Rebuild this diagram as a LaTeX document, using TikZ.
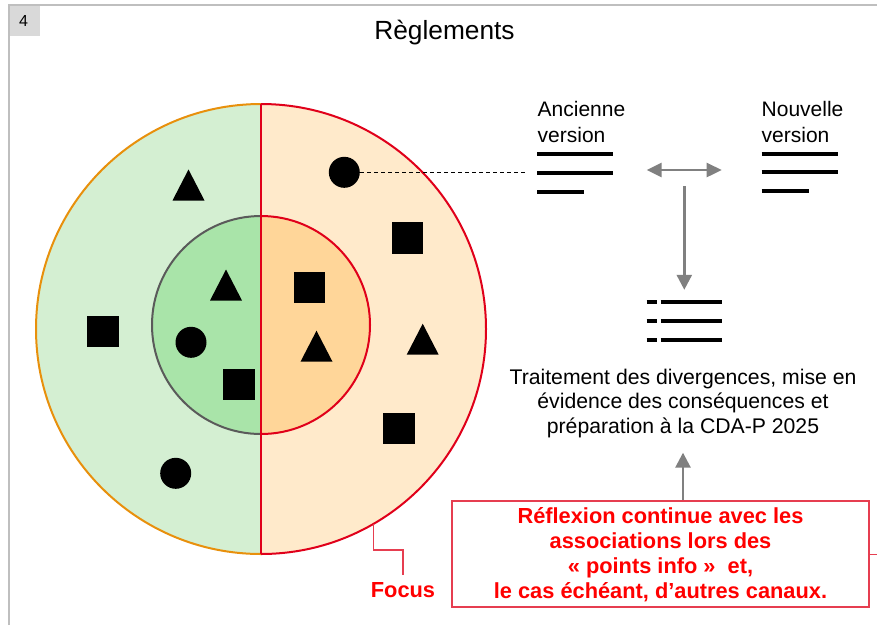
\documentclass[tikz,border=0pt]{standalone}
\usepackage{fontspec}
\setmainfont{Liberation Sans}
\usetikzlibrary{arrows.meta}
\definecolor{lgreen}{HTML}{D4EFD2}
\definecolor{mgreen}{HTML}{A9E4A9}
\definecolor{lorange}{HTML}{FFEACB}
\definecolor{morange}{HTML}{FFD699}
\definecolor{ringorange}{HTML}{E8900C}
\definecolor{ringred}{HTML}{E0001A}
\definecolor{ringgray}{HTML}{5A5A5A}
\definecolor{arrowgray}{HTML}{808080}
\definecolor{boxred}{HTML}{E63E50}
\definecolor{textred}{HTML}{FF0000}
\definecolor{framegray}{HTML}{BFBFBF}
\definecolor{tabgray}{HTML}{D9D9D9}
\newcommand\mytri[3]{\fill (#1-16,#2+15.5) -- (#1+16,#2+15.5) -- (#1,#2-15.5) -- cycle; \coordinate (#3) at (#1,#2);}
\begin{document}
\begin{tikzpicture}[x=1pt,y=-1pt,
  dotnode/.style={circle,fill=black,inner sep=0,minimum size=31pt},
  sqnode/.style={rectangle,fill=black,inner sep=0,minimum size=31.5pt},
  bodytext/.style={font=\fontsize{21}{26}\selectfont, inner sep=0},
  redtext/.style={font=\bfseries\fontsize{21.8}{25}\selectfont, text=textred, inner sep=0},
  ring/.style={line width=2pt},
  garrow/.style={draw=arrowgray, line width=2.6pt, -{Triangle[width=15pt,length=15pt]}},
  gdarrow/.style={draw=arrowgray, line width=2.6pt, {Triangle[width=14pt,length=15pt]}-{Triangle[width=14pt,length=15pt]}},
  docline/.style={line width=4pt, black},
  redline/.style={draw=boxred, line width=1.4pt}]
\useasboundingbox (0,0) rectangle (877,625);
% frame
\fill[tabgray] (9,5) rectangle (40,35.5);
\draw[framegray, line width=2pt] (9,625) -- (9,5) -- (877,5);
\node[font=\fontsize{16}{18}\selectfont, inner sep=0] (num) at (23.5,21) {4};
\node[font=\fontsize{26.3}{30}\selectfont, inner sep=0] (title) at (444.5,32.5) {Règlements};
% circles
\fill[lgreen] (261,104) arc[start angle=90,end angle=270,radius=225pt] -- cycle;
\fill[lorange] (261,104) arc[start angle=90,end angle=-90,radius=225pt] -- cycle;
\draw[ring, ringorange] (261,104) arc[start angle=90,end angle=270,radius=225pt];
\draw[ring, ringred] (261,104) arc[start angle=90,end angle=-90,radius=225pt];
\fill[mgreen] (261,216) arc[start angle=90,end angle=270,radius=109pt] -- cycle;
\fill[morange] (261,216) arc[start angle=90,end angle=-90,radius=109pt] -- cycle;
\draw[ring, ringgray] (261,216) arc[start angle=90,end angle=270,radius=109pt];
\draw[ring, ringred] (261,216) arc[start angle=90,end angle=-90,radius=109pt];
\draw[ring, ringred] (261,104) -- (261,554);
% shapes
\mytri{188.5}{185}{t1}
\node[sqnode] (s1) at (103,331.5) {};
\mytri{226}{285}{t2}
\node[dotnode] (d1) at (191,342.3) {};
\node[sqnode] (s2) at (239,384.5) {};
\node[dotnode] (d2) at (175.7,473.3) {};
\node[dotnode] (rdot) at (344.3,172.3) {};
\node[sqnode] (s3) at (407.5,238) {};
\node[sqnode] (s4) at (309.7,287.7) {};
\mytri{316.5}{346.2}{t3}
\mytri{422.7}{339.2}{t4}
\node[sqnode] (s5) at (399,428.3) {};
% dashed link
\coordinate (dashend) at (525,172.3);
\draw[black, line width=0.9pt, dash pattern=on 4pt off 3pt] (rdot.east) -- (dashend);
% versions
\node[bodytext, anchor=north west, align=left] (anc) at (537.5,101.5) {Ancienne\\version};
\node[bodytext, anchor=north west, align=left] (nouv) at (761.5,101.5) {Nouvelle\\version};
\coordinate (ancl) at (537.3,154);
\draw[docline] (ancl) -- ++(76,0);
\draw[docline] (537.3,172.5) -- ++(76,0);
\draw[docline] (537.3,191.5) -- ++(46.7,0);
\coordinate (nouvl) at (761.7,153.5);
\draw[docline] (nouvl) -- ++(76,0);
\draw[docline] (761.7,172) -- ++(76,0);
\draw[docline] (761.7,190.5) -- ++(47.3,0);
\coordinate (dal) at (646.7,170);
\coordinate (dar) at (721.7,170);
\draw[gdarrow] (dal) -- (dar);
% merged list
\coordinate (list) at (684.3,302.3);
\foreach \yy in {302.3,321.3,339.7}{
  \draw[docline] (646.7,\yy) -- (656.7,\yy);
  \draw[docline] (660.7,\yy) -- (722.3,\yy);
}
\coordinate (arrtop) at (684.3,186);
\draw[garrow] (arrtop) -- ([yshift=12.5pt]list);
% text
\node[font=\fontsize{21.2}{24.5}\selectfont, inner sep=0, align=center, anchor=north] (trait) at (683,368.5)
  {Traitement des divergences, mise en\\évidence des conséquences et\\préparation à la CDA-P 2025};
% red box
\node[draw=boxred, line width=1.8pt, minimum width=417.6pt, minimum height=106.3pt, redtext, align=center] (rbox) at (660.5,554.2)
  {Réflexion continue avec les\\associations lors des\\«~points info~»~ et,\\le cas échéant, d\symbol{39}autres canaux.};
\draw[garrow] (rbox.north -| trait.south) -- ([yshift=-15pt]trait.south);
\draw[redline] (rbox.east) -- (877,554.2);
% focus
\node[redtext] (focus) at (403,590) {Focus};
\coordinate (fc) at (373.3,524);
\draw[redline, shorten >=7pt] (fc) -- (373.3,550) -| (focus.north);
\end{tikzpicture}
\end{document}
